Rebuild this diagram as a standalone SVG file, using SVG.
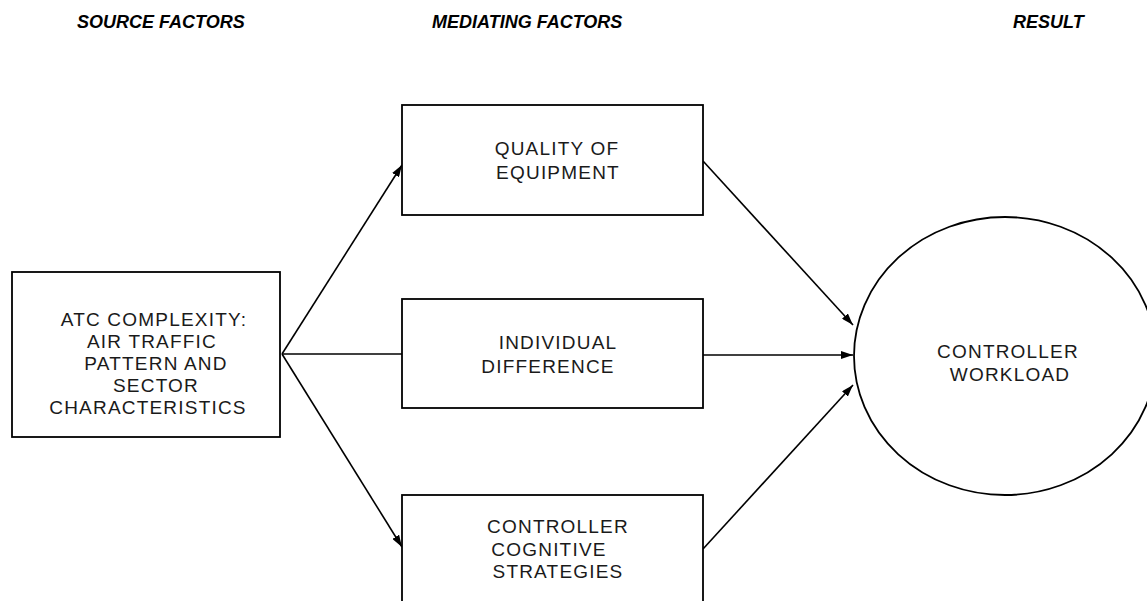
<svg xmlns="http://www.w3.org/2000/svg" width="1147" height="601" viewBox="0 0 1147 601">
<style>
.hdr{font-family:"Liberation Sans",Arial,sans-serif;font-size:18px;font-weight:bold;font-style:italic;fill:#000}
.t{font-family:"Liberation Sans",Arial,sans-serif;font-size:19px;letter-spacing:1.2px;fill:#1a1a1a;text-anchor:middle}
.box{fill:#fff;stroke:#000;stroke-width:1.8}
.ln{fill:none;stroke:#000;stroke-width:1.6}
</style>
<defs>
<marker id="ah" viewBox="0 0 12 8" refX="12" refY="4" markerWidth="12" markerHeight="8" markerUnits="userSpaceOnUse" orient="auto">
<path d="M0,0 L12,4 L0,8 Z" fill="#000"/>
</marker>
</defs>
<rect width="1147" height="601" fill="#fff"/>
<g id="headers">
<text class="hdr" x="77" y="28">SOURCE FACTORS</text>
<text class="hdr" x="432" y="28">MEDIATING FACTORS</text>
<text class="hdr" x="1013" y="28">RESULT</text>
</g>
<g id="connectors">
<line class="ln" x1="282" y1="354" x2="402" y2="165" marker-end="url(#ah)"/>
<line class="ln" x1="282" y1="354" x2="402" y2="354"/>
<line class="ln" x1="282" y1="354" x2="402" y2="547" marker-end="url(#ah)"/>
<line class="ln" x1="703" y1="161" x2="853" y2="325" marker-end="url(#ah)"/>
<line class="ln" x1="703" y1="355" x2="853" y2="355" marker-end="url(#ah)"/>
<line class="ln" x1="703" y1="549" x2="853" y2="385" marker-end="url(#ah)"/>
</g>
<g id="atc">
<rect class="box" x="12" y="272" width="268" height="165"/>
<text class="t" x="154" y="326">ATC COMPLEXITY:</text>
<text class="t" x="152" y="348">AIR TRAFFIC</text>
<text class="t" x="156" y="370">PATTERN AND</text>
<text class="t" x="156" y="392">SECTOR</text>
<text class="t" x="148" y="414">CHARACTERISTICS</text>
</g>
<g id="quality">
<rect class="box" x="402" y="105" width="301" height="110"/>
<text class="t" x="557" y="155">QUALITY OF</text>
<text class="t" x="558" y="179">EQUIPMENT</text>
</g>
<g id="individual">
<rect class="box" x="402" y="299" width="301" height="109"/>
<text class="t" x="558" y="349">INDIVIDUAL</text>
<text class="t" x="548" y="373">DIFFERENCE</text>
</g>
<g id="strategies">
<rect class="box" x="402" y="495" width="301" height="120"/>
<text class="t" x="558" y="533">CONTROLLER</text>
<text class="t" x="549" y="556">COGNITIVE</text>
<text class="t" x="558" y="578">STRATEGIES</text>
</g>
<g id="workload">
<ellipse class="box" cx="1005" cy="356" rx="151" ry="139"/>
<text class="t" x="1008" y="358">CONTROLLER</text>
<text class="t" x="1010" y="381">WORKLOAD</text>
</g>
</svg>
